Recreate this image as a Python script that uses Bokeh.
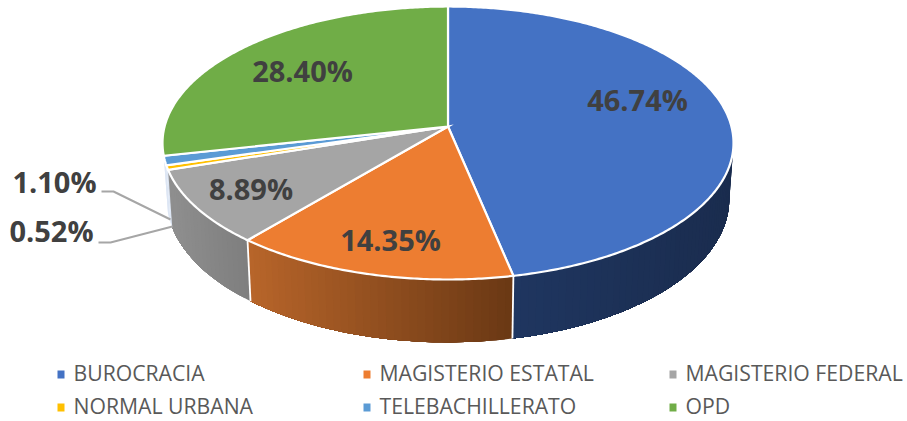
import math
from bokeh.plotting import figure
from bokeh.models import Range1d
from bokeh.core.properties import value
from bokeh.embed import file_html
from bokeh.resources import INLINE

categories = ["BUROCRACIA", "MAGISTERIO ESTATAL", "MAGISTERIO FEDERAL",
              "NORMAL URBANA", "TELEBACHILLERATO", "OPD"]
shares = [46.74, 14.35, 8.89, 0.52, 1.10, 28.40]
colors = ["#4472C4", "#ED7D31", "#A5A5A5", "#FFC000", "#5B9BD5", "#70AD47"]
wall_left = ["#1F3660", "#B8652A", "#8F8F8F", "#DDE6F4", "#DDE6F4", None]
wall_right = ["#1A2C4E", "#6A3814", "#7E7E7E", "#DDE6F4", "#DDE6F4", None]

W, H = 907, 421
CX, CY, R, A, P = 447.5, 126.0, 283.4, 134.5, 0.1209
CY2, R2, A2 = 181.5, 279.2, 141.0
FONT = "Open Sans"
INK = "#404040"


def top_pt(th):
    u, v = math.sin(th), -math.cos(th)
    s = 1 / (1 - P * v)
    return CX + R * u * s, CY + A * v * s


def low_pt(th):
    u, v = math.sin(th), -math.cos(th)
    s = 1 / (1 - P * v)
    return CX + R2 * u * s, CY2 + A2 * v * s


def hex_mix(a, b, t):
    ca = [int(a[i:i + 2], 16) for i in (1, 3, 5)]
    cb = [int(b[i:i + 2], 16) for i in (1, 3, 5)]
    return "#%02x%02x%02x" % tuple(round(x + (y - x) * t) for x, y in zip(ca, cb))


p = figure(width=W, height=H, output_backend="svg", toolbar_location=None,
           x_range=Range1d(0, W), y_range=Range1d(H, 0),
           min_border=0, outline_line_color=None, background_fill_color="white")
p.axis.visible = False
p.grid.visible = False

bounds = [0.0]
for s in shares:
    bounds.append(bounds[-1] + s)
total = bounds[-1]
ang = [b / total * 2 * math.pi for b in bounds]

# side walls: overlapping strips give the left-to-right shading without seams
for i in range(len(shares)):
    if wall_left[i] is None:
        continue
    a0 = max(ang[i], math.pi * 0.47)
    a1 = min(ang[i + 1], math.pi * 1.55)
    if a1 <= a0:
        continue
    n = max(1, int((a1 - a0) / 0.025))
    grid = [a0 + (a1 - a0) * k / n for k in range(n + 1)]
    xmin = min(low_pt(t)[0] for t in grid)
    xmax = max(low_pt(t)[0] for t in grid)
    for k in range(n):
        # each strip runs on to the far end of the slice; later ones paint over it
        tail = grid[k:]
        q = [top_pt(t) for t in tail] + [low_pt(t) for t in reversed(tail)]
        mid = (low_pt(grid[k])[0] + low_pt(grid[k + 1])[0]) / 2
        col = hex_mix(wall_left[i], wall_right[i], (mid - xmin) / (xmax - xmin))
        p.patch([c[0] for c in q], [c[1] for c in q], fill_color=col, line_color=None)

# white seams on the wall
for i in (1, 2):
    a, b = top_pt(ang[i]), low_pt(ang[i])
    p.line([a[0], b[0]], [a[1], b[1]], line_color="white", line_width=1.8)

# top faces
for i in range(len(shares)):
    n = max(2, int((ang[i + 1] - ang[i]) / 0.01))
    pts = [top_pt(ang[i] + (ang[i + 1] - ang[i]) * k / n) for k in range(n + 1)]
    p.patch([CX] + [c[0] for c in pts], [CY] + [c[1] for c in pts],
            fill_color=colors[i], line_color="white", line_width=2.2, line_join="miter")

# leader lines of the two thin slices
leaders = [([101, 113, 170], [191, 191, 219]), ([98, 110, 172], [242, 242, 226])]
for lx, ly in leaders:
    p.line(lx, ly, line_color="#A6A6A6", line_width=2)

# value labels
label_pos = [(637, 99), (390, 239), (250.5, 187.5), (51, 230), (54, 181), (302, 70)]
p.text([c[0] for c in label_pos], [c[1] for c in label_pos],
       text=["%.2f%%" % s for s in shares],
       text_font=value(FONT), text_font_style="bold", text_font_size="29px",
       text_color=INK, text_align="center", text_baseline="middle")

# legend
leg_sq_x = [60.5, 366.5, 672.5]
leg_txt_x = [73, 379, 685]
leg_y = [374, 407]
for i, name in enumerate(categories):
    r, c = i // 3, i % 3
    p.rect([leg_sq_x[c]], [leg_y[r]], width=7, height=8, fill_color=colors[i], line_color=None)
    p.text([leg_txt_x[c]], [leg_y[r] - 2], text=[name], text_font=value(FONT),
           text_font_size="21.2px", text_color="#595959", text_align="left",
           text_baseline="middle")

open("out.html", "w").write(file_html(p, INLINE))
